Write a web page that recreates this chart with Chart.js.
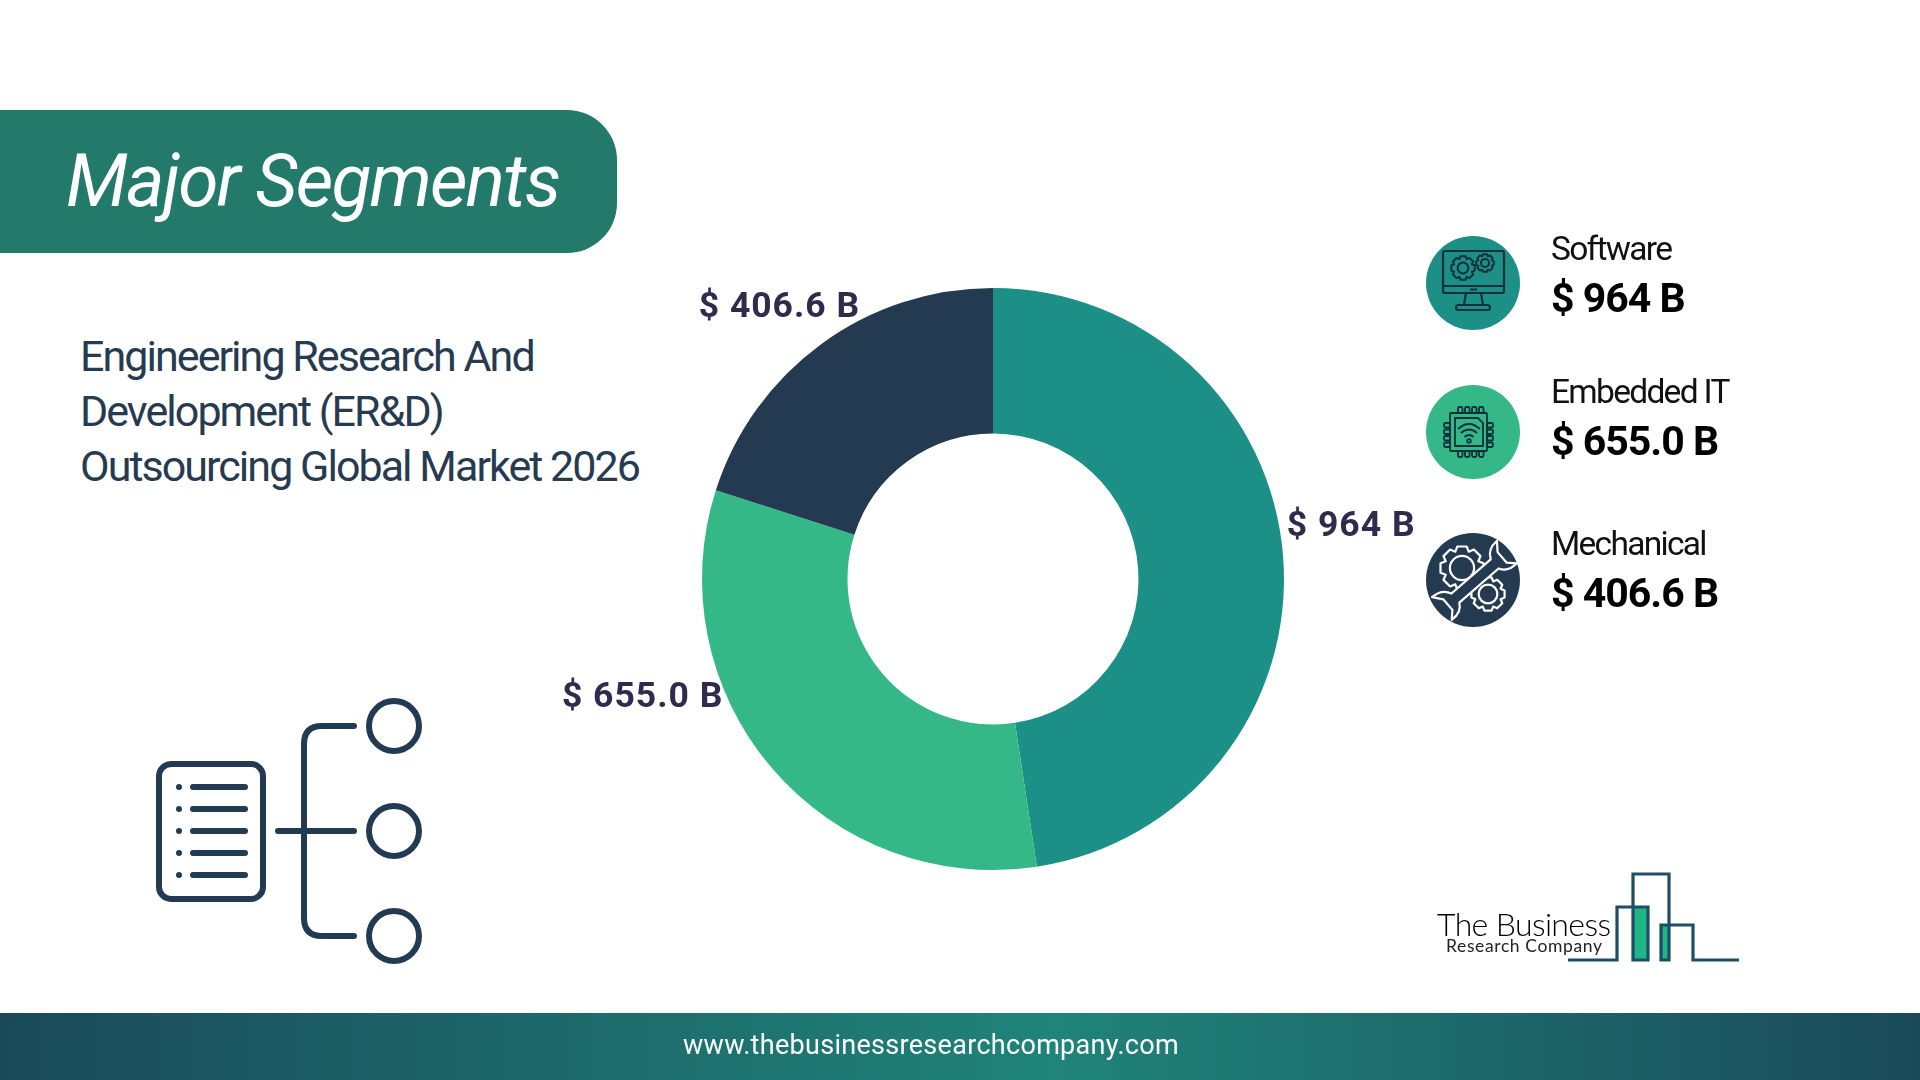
<!DOCTYPE html>
<html>
<head>
<meta charset="utf-8">
<title>Major Segments</title>
<script src="https://cdn.jsdelivr.net/npm/chart.js@4"></script>
<style>
  html, body { margin: 0; padding: 0; background: #fff; }
  body { width: 1920px; height: 1080px; position: relative; overflow: hidden; font-family: Roboto, sans-serif; }
  #chart { position: absolute; left: 0; top: 0; }
  #deco { position: absolute; left: 0; top: 0; }
  .banner { position: absolute; left: 0; top: 110px; width: 617px; height: 143px; background: #237a6b; border-radius: 0 50px 50px 0; }
  .banner span { position: absolute; left: 66px; top: 28px; font: italic 400 73px Roboto; letter-spacing: -1.7px; color: #fff; white-space: nowrap; }
  .sub { position: absolute; left: 80px; top: 329px; font: 400 43px/55px Roboto; letter-spacing: -1.95px; color: #263a50; white-space: nowrap; }
  .footer { position: absolute; left: 0; top: 1013px; width: 1920px; height: 67px; background: linear-gradient(90deg, #1a4a5a 0%, #1f8479 55%, #1a4a5a 100%); }
  .footer span { position: absolute; left: 0; width: 1862px; text-align: center; top: 16px; font: 400 27px Roboto; letter-spacing: .3px; color: #fff; }
</style>
</head>
<body>
<div class="banner"><span>Major Segments</span></div>
<div class="sub">Engineering Research And<br>Development (ER&amp;D)<br>Outsourcing Global Market 2026</div>
<canvas id="chart" width="1920" height="1080"></canvas>
<svg id="deco" width="1920" height="1080" xmlns="http://www.w3.org/2000/svg"></svg>
<div class="footer"><span>www.thebusinessresearchcompany.com</span></div>

<script>
// ── Data ─────────────────────────────────────────────
const categories = ['Software', 'Embedded IT', 'Mechanical'];
const marketValues = [964, 655.0, 406.6];
const valueLabels = ['$ 964 B', '$ 655.0 B', '$ 406.6 B'];
const sliceColors = ['#1c8f87', '#34b887', '#233a50'];

// ── Donut value labels, drawn next to each slice ─────
const labelOffsets = [[68, -30], [-129, -70], [-42, -36]];
const sliceLabels = {
  id: 'sliceLabels',
  afterDatasetsDraw(chart) {
    const ctx = chart.ctx;
    ctx.save();
    ctx.font = '700 35.5px Roboto';
    ctx.letterSpacing = '1px';
    ctx.fillStyle = '#2e2b4d';
    ctx.textAlign = 'center';
    ctx.textBaseline = 'middle';
    chart.getDatasetMeta(0).data.forEach((arc, i) => {
      const mid = (arc.startAngle + arc.endAngle) / 2;
      const x = arc.x + Math.cos(mid) * arc.outerRadius + labelOffsets[i][0];
      const y = arc.y + Math.sin(mid) * arc.outerRadius + labelOffsets[i][1];
      ctx.fillText(valueLabels[i], x, y);
    });
    ctx.restore();
  }
};

new Chart(document.getElementById('chart'), {
  type: 'doughnut',
  data: {
    labels: categories,
    datasets: [{ data: marketValues, backgroundColor: sliceColors, borderWidth: 0 }]
  },
  options: {
    responsive: false,
    animation: false,
    cutout: '50%',
    layout: { padding: { left: 702, top: 288, right: 636, bottom: 210 } },
    plugins: { legend: { display: false }, tooltip: { enabled: false } }
  },
  plugins: [sliceLabels]
});

// ── Decoration (legend, icons, logo) ─────────────────
const gear = (cx, cy, R, teeth, stroke, sw, hole = 0.45) => {
  const rIn = R * 0.8, pts = [];
  for (let i = 0; i < teeth; i++) {
    const a = i / teeth * Math.PI * 2, w = Math.PI / teeth;
    [[rIn, -w], [R, -w * 0.55], [R, w * 0.55], [rIn, w]].forEach(([r, d]) => {
      pts.push((cx + Math.cos(a + d) * r).toFixed(1) + ',' + (cy + Math.sin(a + d) * r).toFixed(1));
    });
  }
  return `<polygon points="${pts.join(' ')}" fill="none" stroke="${stroke}" stroke-width="${sw}" stroke-linejoin="round"/>
    <circle cx="${cx}" cy="${cy}" r="${R * hole}" fill="none" stroke="${stroke}" stroke-width="${sw}"/>`;
};

const dark = '#10303a';
const monitorIcon = `
  <g fill="none" stroke="${dark}" stroke-width="2.2" stroke-linejoin="round">
    <rect x="1443" y="251" width="61" height="42" rx="2"/>
    <path d="M1443 286H1504M1470 289.5H1477"/>
    <path d="M1466 293L1464 305M1481 293L1483 305"/>
    <rect x="1456" y="305" width="34" height="5" rx="2.5"/>
    ${gear(1463, 268, 12, 8, dark, 2)}
    ${gear(1485, 263, 9, 8, dark, 2)}
  </g>`;

let chipPins = '';
for (let i = 0; i < 4; i++) {
  const p = 1458 + i * 7, q = 423 + i * 6.5;
  chipPins += `<rect x="${p}" y="407" width="4.5" height="6" rx="1.5"/><rect x="${p}" y="451" width="4.5" height="6" rx="1.5"/>`;
  chipPins += `<rect x="1444" y="${q}" width="6" height="4.5" rx="1.5"/><rect x="1487" y="${q}" width="6" height="4.5" rx="1.5"/>`;
}
const chipIcon = `
  <g fill="none" stroke="${dark}" stroke-width="1.8">
    <rect x="1450" y="413" width="37" height="38" rx="1"/>
    <path d="M1455 418H1478L1483 423V446H1455Z"/>
    ${chipPins}
    <path d="M1458 429Q1469 419 1480 429M1461 433Q1469 426 1477 433M1464.500 437Q1469 433 1473.500 437"/>
    <circle cx="1469" cy="441" r="1.800"/>
  </g>`;

const wrenchIcon = `
  <g fill="none" stroke="#fff" stroke-width="2.2" stroke-linejoin="round">
    ${gear(1462, 568, 22, 8, '#fff', 2.2, 0.55)}
    ${gear(1488, 594, 17, 8, '#fff', 2.2, 0.55)}
  </g>
  <g transform="translate(1475 581) rotate(-41)">
    <path d="M-26 -6H26C29 -13 34 -16 43 -16L36 -7V7L43 14C34 15 29 12 26 6H-26C-29 12 -34 15 -43 14L-36 7V-7L-43 -16C-34 -16 -29 -13 -26 -6Z"
      fill="#233a50" stroke="#fff" stroke-width="2.2" stroke-linejoin="round"/>
  </g>`;

const legendIcons = [monitorIcon, chipIcon, wrenchIcon];
const legendTop = [283, 432, 580];
const nameBase = [260, 403, 555];
const valueBase = [312, 455, 607];

let svg = '';
categories.forEach((name, i) => {
  svg += `<circle cx="1473" cy="${legendTop[i]}" r="47" fill="${sliceColors[i]}"/>${legendIcons[i]}`;
  svg += `<text x="1551" y="${nameBase[i]}" font-family="Roboto" font-size="33.5" font-weight="400" letter-spacing="-1.7" fill="#111">${name}</text>`;
  svg += `<text x="1551" y="${valueBase[i]}" font-family="Roboto" font-size="41" font-weight="700" letter-spacing="-1" fill="#000">${valueLabels[i]}</text>`;
});

// list + tree icon, lower left
const ink = '#233b52';
let treeIcon = `<g fill="none" stroke="${ink}" stroke-width="6" stroke-linecap="round">
  <rect x="159" y="764" width="104" height="135" rx="12"/>
  <path d="M354 726H322Q304 726 304 744V918Q304 936 322 936H354M278 831H354"/>`;
[787, 809, 831, 853, 875].forEach(y => {
  treeIcon += `<path d="M193 ${y}H245"/><circle cx="179" cy="${y}" r="3" fill="${ink}" stroke-width="0"/>`;
});
[726, 831, 936].forEach(y => { treeIcon += `<circle cx="394" cy="${y}" r="25"/>`; });
treeIcon += '</g>';
svg += treeIcon;

// company logo, lower right
svg += `<rect x="1633" y="907" width="15" height="53" fill="#1fb586"/><rect x="1661" y="925" width="8" height="35" fill="#1fb586"/>
  <path d="M1568 960H1617V907H1648V960H1633V874H1669V960H1661V925H1693V960H1739" fill="none" stroke="#1e4e63" stroke-width="3.200"/>
  <text x="1437" y="936" font-family="Lato" font-size="32" font-weight="300" fill="#000" textLength="174" lengthAdjust="spacing">The Business</text>
  <text x="1446" y="952" font-family="Lato" font-size="17.500" font-weight="400" fill="#222" textLength="156" lengthAdjust="spacing">Research Company</text>`;

document.getElementById('deco').innerHTML = svg;
</script>
</body>
</html>
